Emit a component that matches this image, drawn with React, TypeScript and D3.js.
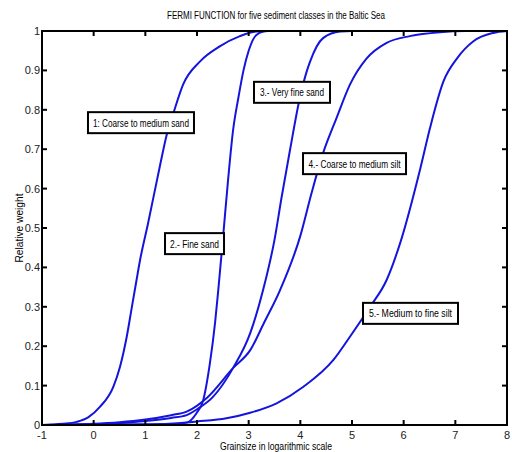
import React from "react";
import * as d3 from "d3";

const xTicks = [-1, 0, 1, 2, 3, 4, 5, 6, 7, 8];
const yTicks = [0, 0.1, 0.2, 0.3, 0.4, 0.5, 0.6, 0.7, 0.8, 0.9, 1];
const yTickLabels = ["0", "0.1", "0.2", "0.3", "0.4", "0.5", "0.6", "0.7", "0.8", "0.9", "1"];

const curve1: [number, number][] = [
  [-1, 0], [-0.6, 0.003], [-0.33, 0.008], [-0.1, 0.02], [0.12, 0.046], [0.38, 0.097], [0.51, 0.148],
  [0.64, 0.224], [0.74, 0.3], [0.83, 0.368], [0.9, 0.42], [1.05, 0.51], [1.28, 0.656], [1.42, 0.74],
  [1.54, 0.79], [1.73, 0.864], [2.06, 0.923], [2.44, 0.961], [2.83, 0.987], [3.15, 0.999], [3.4, 1], [8, 1],
];
const curve2: [number, number][] = [
  [-1, 0], [0.5, 0.001], [1.5, 0.002], [1.8, 0.006], [1.99, 0.03], [2.12, 0.063], [2.25, 0.157],
  [2.35, 0.26], [2.41, 0.34], [2.5, 0.47], [2.6, 0.62], [2.7, 0.75], [2.8, 0.83], [2.9, 0.9],
  [3.0, 0.95], [3.15, 0.99], [3.35, 1], [8, 1],
];
const curve3: [number, number][] = [
  [-1, 0], [0, 0.002], [1, 0.01], [1.5, 0.018], [1.8, 0.025], [2.0, 0.04], [2.3, 0.07], [2.7, 0.145],
  [3.03, 0.233], [3.28, 0.343], [3.5, 0.47], [3.64, 0.58], [3.8, 0.698], [3.99, 0.83], [4.13, 0.9],
  [4.19, 0.923], [4.44, 0.982], [4.77, 0.999], [5.0, 1], [8, 1],
];
const curve4: [number, number][] = [
  [-1, 0], [0, 0.003], [0.5, 0.007], [1, 0.014], [1.5, 0.025], [1.8, 0.034], [2.2, 0.07], [2.7, 0.145],
  [3.03, 0.19], [3.3, 0.26], [3.61, 0.343], [4.0, 0.48], [4.22, 0.59], [4.44, 0.69], [4.7, 0.779],
  [4.96, 0.864], [5.28, 0.93], [5.67, 0.97], [6.12, 0.987], [6.7, 0.997], [7.2, 1], [8, 1],
];
const curve5: [number, number][] = [
  [-1, 0], [1.0, 0.001], [1.54, 0.004], [2.0, 0.009], [2.57, 0.017], [3.03, 0.031], [3.54, 0.055],
  [4.06, 0.097], [4.64, 0.165], [4.96, 0.224], [5.35, 0.3], [5.67, 0.368], [5.93, 0.461], [6.32, 0.65],
  [6.51, 0.754], [6.77, 0.872], [7.03, 0.93], [7.35, 0.974], [7.73, 0.995], [8, 1],
];
const seriesList = [curve1, curve2, curve3, curve4, curve5];

const labelTexts = [
  "1: Coarse to medium sand",
  "2.- Fine sand",
  "3.- Very fine sand",
  "4.- Coarse to medium silt",
  "5.- Medium to fine silt",
];
// label box top-left corners in data coordinates
const labelAnchors: [number, number][] = [
  [-0.11, 0.794],
  [1.381, 0.487],
  [3.103, 0.871],
  [4.052, 0.69],
  [5.213, 0.31],
];
const labelBoxW = [106, 59, 76, 103, 95];
const labelTextW = [96, 49, 64, 92, 83];

const W = 512;
const H = 452;
const left = 42, right = 507, top = 31, bottom = 425;

export default function App() {
  const x = d3.scaleLinear().domain([-1, 8]).range([left, right]);
  const y = d3.scaleLinear().domain([0, 1]).range([bottom, top]);
  const line = d3
    .line<[number, number]>()
    .x((d) => x(d[0]))
    .y((d) => y(d[1]))
    .curve(d3.curveMonotoneX);
  const font = "'Liberation Sans Narrow', 'Arial Narrow', 'Liberation Sans', Arial, sans-serif";
  const tl = 5;
  return (
    <svg width={W} height={H} style={{ position: "absolute", left: 0, top: 0, background: "#fff" }}>
      <rect x={0} y={0} width={W} height={H} fill="#fff" />
      <text x={276} y={19} fontFamily={font} fontSize={10} textAnchor="middle" textLength={218} lengthAdjust="spacingAndGlyphs">
        FERMI FUNCTION for five sediment classes in the Baltic Sea
      </text>
      {seriesList.map((s, i) => (
        <path key={i} d={line(s) || ""} fill="none" stroke="#1414dc" strokeWidth={2} />
      ))}
      <rect x={left} y={top} width={right - left} height={bottom - top} fill="none" stroke="#000" strokeWidth={2} />
      {xTicks.map((t) => (
        <g key={"x" + t}>
          <line x1={x(t)} x2={x(t)} y1={bottom} y2={bottom - tl} stroke="#000" strokeWidth={2} />
          <line x1={x(t)} x2={x(t)} y1={top} y2={top + tl} stroke="#000" strokeWidth={2} />
          <text x={x(t)} y={439} fontFamily={font} fontSize={11} textAnchor="middle" fill="#222">
            {t}
          </text>
        </g>
      ))}
      {yTicks.map((t, i) => (
        <g key={"y" + t}>
          <line x1={left} x2={left + tl} y1={y(t)} y2={y(t)} stroke="#000" strokeWidth={2} />
          <line x1={right} x2={right - tl} y1={y(t)} y2={y(t)} stroke="#000" strokeWidth={2} />
          <text x={left - 2} y={y(t) + 4} fontFamily={font} fontSize={11} textAnchor="end" fill="#222">
            {yTickLabels[i]}
          </text>
        </g>
      ))}
      <text x={276} y={450} fontFamily={font} fontSize={10} textAnchor="middle" textLength={112} lengthAdjust="spacingAndGlyphs">
        Grainsize in logarithmic scale
      </text>
      <text
        transform={`translate(23,228) rotate(-90)`}
        fontFamily={font}
        fontSize={10}
        textAnchor="middle"
        textLength={69}
        lengthAdjust="spacingAndGlyphs"
      >
        Relative weight
      </text>
      {labelTexts.map((t, i) => {
        const bx = x(labelAnchors[i][0]);
        const by = y(labelAnchors[i][1]);
        const bw = labelBoxW[i];
        const bh = 21;
        return (
          <g key={"l" + i}>
            <rect x={bx} y={by} width={bw} height={bh} fill="#fff" stroke="#000" strokeWidth={2} />
            <text
              x={bx + bw / 2}
              y={by + bh / 2 + 4}
              fontFamily={font}
              fontSize={11}
              textAnchor="middle"
              textLength={labelTextW[i]}
              lengthAdjust="spacingAndGlyphs"
            >
              {t}
            </text>
          </g>
        );
      })}
    </svg>
  );
}
